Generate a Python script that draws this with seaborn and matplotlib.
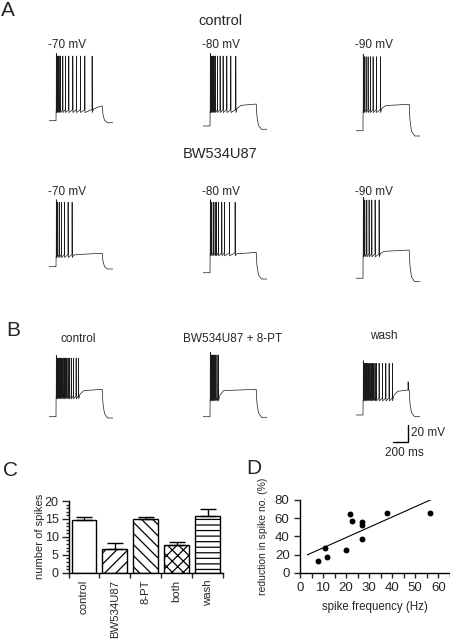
import numpy as np
import pandas as pd
import matplotlib
matplotlib.use("Agg")
import matplotlib.pyplot as plt
import seaborn as sns

# ---------------- data ----------------
# Panel A / B traces: spike times (ms after current-step onset)
ctrl70_spikes = [3, 13, 26, 39, 56, 87, 121, 165, 217, 264, 316, 373, 468]
ctrl80_spikes = [3, 13, 26, 39, 52, 69, 95, 130, 169, 217, 269, 334]
ctrl90_spikes = [3, 17, 39, 65, 95, 130, 173, 225]
bw70_spikes = [3, 22, 43, 69, 108, 156, 208]
bw80_spikes = [3, 22, 43, 65, 82, 108, 152, 186, 251, 325]
bw90_spikes = [3, 22, 48, 78, 113, 156, 208]
b_ctrl_spikes = [3, 17, 31, 45, 60, 75, 90, 106, 122, 139, 156, 174, 197, 225, 260, 292]
b_both_spikes = [3, 15, 28, 42, 57, 73, 90, 108]
b_wash_spikes = [3, 17, 31, 45, 60, 75, 90, 106, 122, 139, 156, 174, 208, 251, 295, 338, 381]
b_wash_late_spike = [585, -29]

# membrane levels (mV): rest, trough, spike peak, late plateau, after step
ctrl70_levels = [-70.0, -59.4, 6.1, -52.7, -72.4]
ctrl80_levels = [-76.2, -59.4, 6.1, -50.4, -80.1]
ctrl90_levels = [-81.8, -59.4, 5.3, -50.7, -88.0]
bw70_levels = [-70.0, -58.2, 5.8, -54.2, -72.7]
bw80_levels = [-77.1, -56.2, 5.8, -53.1, -84.5]
bw90_levels = [-83.6, -57.4, 8.5, -50.4, -87.6]
b_ctrl_levels = [-70.0, -48.0, -1.0, -37.8, -71.5]
b_both_levels = [-70.0, -50.4, 2.6, -37.8, -70.7]
b_wash_levels = [-68.0, -50.4, -7.2, -38.6, -70.0]

step_duration_ms = 600
scale_bar = [200, 20]  # ms, mV

potential_labels = ["-70 mV", "-80 mV", "-90 mV"]
b_titles = ["control", "BW534U87 + 8-PT", "wash"]

# Panel C
conditions = ["control", "BW534U87", "8-PT", "both", "wash"]
spike_mean = [14.7, 6.6, 14.9, 7.7, 15.9]
spike_sem = [0.9, 1.6, 0.7, 0.9, 1.8]
bar_hatches = ["", "///", "\\\\\\", "xxx", "---"]

# Panel D
spike_freq = [7.9, 11.0, 11.9, 19.8, 21.8, 22.7, 26.8, 26.8, 26.8, 37.6, 56.4]
reduction = [12.7, 27.6, 17.0, 25.5, 64.4, 57.0, 37.0, 52.7, 55.7, 66.2, 65.5]
fit_range = [3.2, 57.0]

# ---------------- style ----------------
sns.set_theme(style="ticks")
plt.rcParams["font.family"] = ["Liberation Sans", "DejaVu Sans"]
plt.rcParams["hatch.linewidth"] = 0.9

W, H = 450, 640
fig = plt.figure(figsize=(W / 100, H / 100), dpi=100)
fig.patch.set_facecolor("white")


def px_axes(l, t, r, b):
    return fig.add_axes([l / W, 1 - b / H, (r - l) / W, (b - t) / H])


def px_text(x, y, s, **kw):
    fig.text(x / W, 1 - y / H, s, **kw)


T_START, T_END = -90, 745
V_LO, V_HI = -105, 15
PX_MS, PX_MV = 0.077, 0.85


def build_trace(spikes, levels, extra=None):
    rest, trough, peak, late, end = levels
    t = [T_START, 0.0, 1.0]
    v = [rest, rest, trough]
    for i, ts in enumerate(spikes):
        t += [ts, ts + 1.2, ts + 3.5]
        v += [trough + 2.5, peak + (3 if i == 0 else 0), trough - 1.0]
    last = spikes[-1]
    t += [last + 20, last + 70]
    v += [trough + 0.45 * (late - trough), late - 1.5]
    if extra is not None:
        et, ev = extra
        t += [et, et + 1.2, et + 3.5]
        v += [late, ev, late]
    S = step_duration_ms
    t += [S, S + 10, S + 30, S + 70, T_END]
    v += [late, end + 0.5 * (late - end), end + 0.15 * (late - end), end, end]
    return t, v


def trace_axes(onset_px, ref_px):
    l = onset_px + T_START * PX_MS
    r = onset_px + T_END * PX_MS
    t = ref_px - (V_HI + 70) * PX_MV
    b = ref_px + (-70 - V_LO) * PX_MV
    ax = px_axes(l, t, r, b)
    ax.set_xlim(T_START, T_END)
    ax.set_ylim(V_LO, V_HI)
    ax.axis("off")
    return ax


def draw(ax, spikes, levels, extra=None):
    t, v = build_trace(spikes, levels, extra)
    sns.lineplot(x=t, y=v, ax=ax, sort=False, estimator=None,
                 color="#1a1a1a", lw=0.5)


col_onsets = [56, 210, 363]

rows = [
    (120.7, [(ctrl70_spikes, ctrl70_levels), (ctrl80_spikes, ctrl80_levels),
             (ctrl90_spikes, ctrl90_levels)]),
    (266.7, [(bw70_spikes, bw70_levels), (bw80_spikes, bw80_levels),
             (bw90_spikes, bw90_levels)]),
]
for ref, traces in rows:
    for x0, (sp, lv) in zip(col_onsets, traces):
        draw(trace_axes(x0, ref), sp, lv)

b_axes = []
for x0, (sp, lv, ex) in zip(col_onsets, [(b_ctrl_spikes, b_ctrl_levels, None),
                                          (b_both_spikes, b_both_levels, None),
                                          (b_wash_spikes, b_wash_levels, b_wash_late_spike)]):
    ax = trace_axes(x0, 416.7)
    draw(ax, sp, lv, ex)
    b_axes.append(ax)

# scale bar on last B trace
axs = b_axes[2]
sx, sy = 588, -99.4
axs.plot([sx - scale_bar[0], sx, sx], [sy, sy, sy + scale_bar[1]],
         color="black", lw=1.0, clip_on=False, solid_joinstyle="miter")
px_text(410.7, 436, f"{scale_bar[1]} mV", fontsize=8.5, ha="left", va="baseline")
px_text(404.7, 456, f"{scale_bar[0]} ms", fontsize=8.5, ha="center", va="baseline")

# panel texts
px_text(1, 10.8, "A", fontsize=15, ha="left", va="center")
px_text(220, 25, "control", fontsize=10.5, ha="center", va="baseline")
px_text(220, 158, "BW534U87", fontsize=10.5, ha="center", va="baseline")
for x, s in zip([48.3, 201.7, 355], potential_labels):
    px_text(x, 47.7, s, fontsize=8.5, ha="left", va="baseline")
    px_text(x, 195, s, fontsize=8.5, ha="left", va="baseline")
px_text(6.7, 330, "B", fontsize=15, ha="left", va="center")
for x, y, s in zip([78, 232.5, 384], [341.7, 341.7, 339], b_titles):
    px_text(x, y, s, fontsize=8.5, ha="center", va="baseline")
px_text(3.3, 471, "C", fontsize=15, ha="left", va="center")
px_text(246.7, 468.5, "D", fontsize=15, ha="left", va="center")

# ---------------- Panel C ----------------
axC = px_axes(68.5, 501, 223, 572.7)
sns.barplot(x=conditions, y=spike_mean, ax=axC, color="white", edgecolor="black",
            linewidth=1.0, width=0.8, errorbar=None, saturation=1)
for p, h in zip(axC.patches, bar_hatches):
    p.set_hatch(h)
    p.set_facecolor("white")
axC.errorbar(np.arange(len(conditions)), spike_mean,
             yerr=[np.zeros(len(conditions)), spike_sem], fmt="none",
             ecolor="black", elinewidth=1.0, capsize=6, capthick=1.0, zorder=5)
axC.set_xlim(-0.5, len(conditions) - 0.5)
axC.set_ylim(0, 20)
axC.set_yticks([0, 5, 10, 15, 20])
axC.set_yticks(np.arange(0, 21, 1), minor=True)
axC.set_xticks(np.arange(len(conditions)))
axC.set_xticklabels(conditions, rotation=90, fontsize=8.2)
axC.set_xticks(np.arange(-0.5, len(conditions), 1), minor=True)
axC.tick_params(axis="x", which="major", length=0, pad=5)
axC.tick_params(axis="x", which="minor", length=3.4, width=1.0, direction="out")
axC.tick_params(axis="y", which="major", length=5, width=1.0, labelsize=9, pad=2)
axC.tick_params(axis="y", which="minor", length=2.2, width=1.0)
axC.set_ylabel("number of spikes", fontsize=8)
axC.yaxis.set_label_coords(-0.155, 0.5)
axC.set_xlabel("")
for s in ["left", "bottom"]:
    axC.spines[s].set_linewidth(1.0)
    axC.spines[s].set_color("black")
sns.despine(ax=axC)
axC.set_facecolor("none")

# ---------------- Panel D ----------------
axD = px_axes(300, 500, 449.8, 572.7)
sns.scatterplot(x=spike_freq, y=reduction, ax=axD, color="black", s=18,
                edgecolor="black", linewidth=0, zorder=4)
slope, intercept = np.polyfit(spike_freq, reduction, 1)
sns.lineplot(x=fit_range, y=[intercept + slope * x for x in fit_range], ax=axD,
             color="black", lw=0.8)
axD.set_xlim(0, 65)
axD.set_ylim(0, 80)
axD.set_xticks(np.arange(0, 61, 10))
axD.set_xticks(np.arange(5, 66, 10), minor=True)
axD.set_yticks(np.arange(0, 81, 20))
axD.tick_params(axis="x", which="both", length=3.3, width=1.0, labelsize=9.5, pad=3.5)
axD.tick_params(axis="y", which="major", length=4, width=1.0, labelsize=9.5, pad=3.5)
axD.set_xlabel("spike frequency (Hz)", fontsize=8.3, labelpad=5)
axD.set_ylabel("reduction in spike no. (%)", fontsize=7.5)
axD.yaxis.set_label_coords((267.5 - 300) / 149.8, 0.5)
for s in ["left", "bottom"]:
    axD.spines[s].set_linewidth(1.0)
    axD.spines[s].set_color("black")
sns.despine(ax=axD)
axD.set_facecolor("none")

fig.savefig("out.png", dpi=100, facecolor="white")
